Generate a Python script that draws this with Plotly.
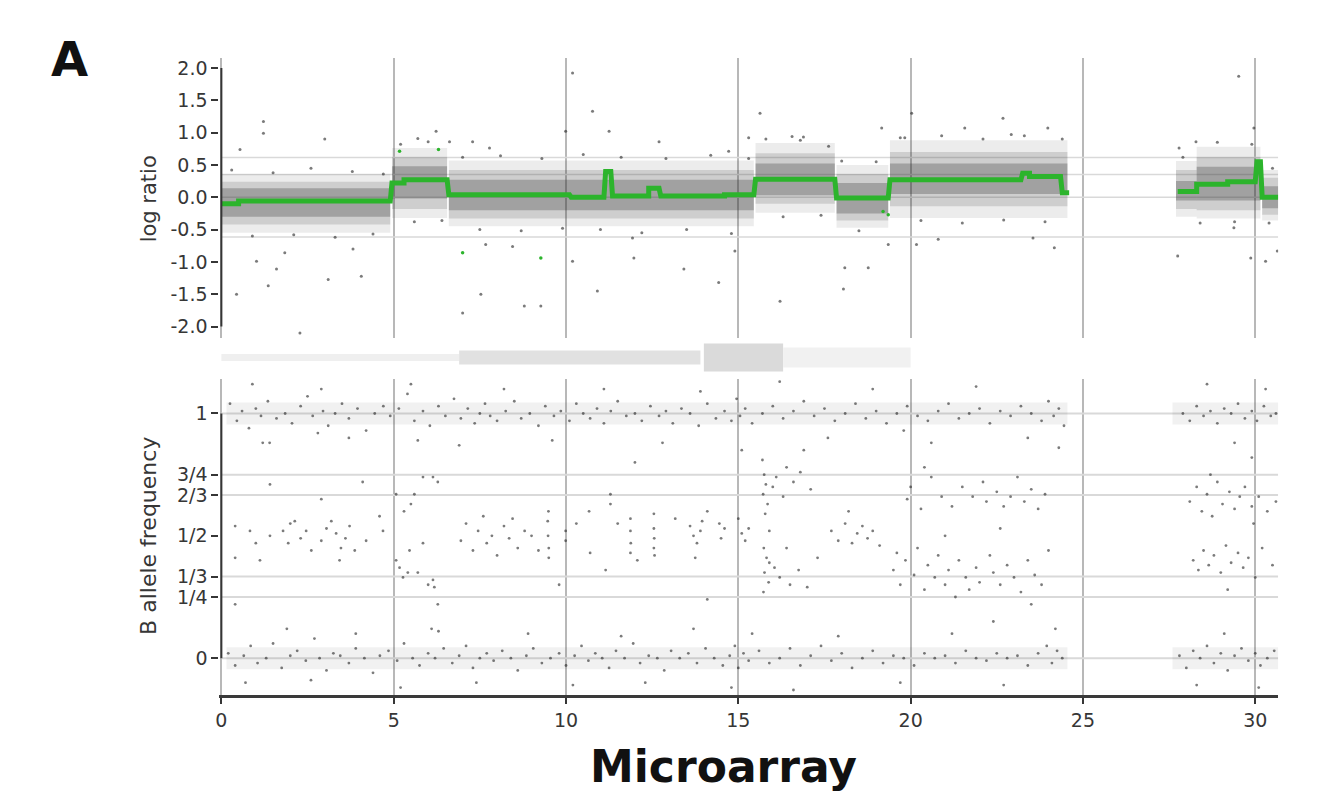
import plotly.graph_objects as go

# ---------------- data ----------------
# log-ratio segmentation (green steps): start, end, value
seg_start = [0.0, 0.5, 4.95, 5.3, 6.6, 10.15, 11.15, 11.35, 12.4, 12.75, 14.6, 15.5, 17.85, 19.4, 23.25, 23.45, 24.4, 27.75, 28.3, 29.2, 30.05, 30.2]
seg_end = [0.5, 4.9, 5.3, 6.55, 10.1, 11.1, 11.3, 12.4, 12.7, 14.6, 15.45, 17.8, 19.35, 23.2, 23.45, 24.35, 24.6, 28.3, 29.2, 30.0, 30.15, 30.67]
seg_value = [-0.10, -0.06, 0.22, 0.27, 0.04, 0.0, 0.40, 0.02, 0.14, 0.02, 0.04, 0.28, -0.01, 0.27, 0.37, 0.32, 0.07, 0.09, 0.20, 0.24, 0.55, 0.0]

# log-ratio probe cloud extents per region (dense core / middle / outer envelope)
cloud_start = [0.0, 4.95, 6.6, 15.5, 17.85, 19.4, 27.7, 28.3, 30.2]
cloud_end = [4.9, 6.55, 15.45, 17.8, 19.35, 24.55, 28.3, 30.15, 30.67]
cloud_core_lo = [-0.30, -0.02, -0.20, 0.03, -0.25, 0.05, -0.05, -0.05, -0.17]
cloud_core_hi = [0.14, 0.48, 0.27, 0.52, 0.22, 0.52, 0.25, 0.47, 0.17]
cloud_mid_lo = [-0.42, -0.18, -0.33, -0.10, -0.36, -0.14, -0.18, -0.20, -0.27]
cloud_mid_hi = [0.24, 0.62, 0.42, 0.68, 0.36, 0.70, 0.42, 0.62, 0.30]
cloud_outer_lo = [-0.55, -0.32, -0.45, -0.24, -0.47, -0.32, -0.30, -0.33, -0.36]
cloud_outer_hi = [0.36, 0.76, 0.57, 0.84, 0.50, 0.88, 0.56, 0.78, 0.42]

# log-ratio outlying probes
lr_outliers = [(1.22, 1.17), (1.22, 0.99), (3.0, 0.9), (0.54, 0.74), (1.02, -0.99), (1.6, -1.11), (1.36, -1.37),
               (0.44, -1.5), (3.1, -1.27), (4.06, -1.22), (2.28, -2.1), (3.82, -0.8), (1.84, -0.86), (5.7, 0.91),
               (6.23, 1.02), (10.19, 1.92), (10.77, 1.33), (11.25, 1.02), (7.53, -1.5), (7.0, -1.79), (8.79, -1.68),
               (9.27, -1.68), (8.45, -0.76), (10.19, -0.99), (10.91, -1.45), (11.97, -0.94), (13.42, -1.11),
               (14.43, -1.32), (16.21, -1.61), (18.05, -1.42), (18.09, -1.09), (18.77, -1.09), (15.63, 1.3),
               (15.3, 0.92), (16.89, 0.93), (16.56, 0.94), (17.62, 0.79), (19.16, 1.07), (12.7, 0.86), (9.99, 1.02),
               (6.62, 0.86), (7.29, 0.86), (7.78, 0.76), (14.72, 0.71), (7.67, -0.73), (11.93, -0.63), (14.9, -0.83),
               (29.52, 1.87), (22.68, 1.22), (21.57, 1.07), (22.92, 0.97), (23.98, 1.07), (19.83, 0.92), (20.03, 1.3),
               (29.96, 1.07), (28.28, 0.86), (27.79, 0.76), (24.17, -0.78), (23.55, -0.63), (20.8, -0.65),
               (20.17, -0.73), (27.75, -0.91), (29.87, -0.94), (30.3, -0.99), (29.38, -0.47), (30.64, -0.83),
               (19.35, -0.73)]
# probes at the fuzzy edge of the clouds
lr_fringe = [(0.3, 0.42), (0.9, -0.6), (1.5, 0.38), (2.1, -0.58), (2.6, 0.45), (3.3, -0.62), (3.8, 0.4),
             (4.4, -0.57), (4.7, 0.36), (5.2, 0.82), (5.6, -0.38), (6.0, 0.86), (6.4, -0.36), (7.0, 0.62),
             (7.5, -0.5), (8.1, 0.64), (8.7, -0.52), (9.3, 0.6), (9.9, -0.48), (10.5, 0.66), (11.0, -0.5),
             (11.6, 0.62), (12.2, -0.55), (12.9, 0.6), (13.5, -0.5), (14.2, 0.65), (14.8, -0.56), (15.3, 0.6),
             (15.8, 0.9), (16.3, -0.3), (16.8, 0.88), (17.4, -0.28), (18.0, 0.56), (18.5, -0.52), (19.0, 0.55),
             (19.7, 0.92), (20.3, -0.36), (20.9, 0.95), (21.5, -0.4), (22.1, 0.9), (22.7, -0.35), (23.3, 0.95),
             (23.9, -0.38), (24.4, 0.9), (27.9, 0.62), (28.4, -0.4), (28.9, 0.85), (29.4, -0.38), (29.9, 0.82),
             (30.4, -0.4), (30.5, 0.45)]
lr_green_points = [(5.17, 0.71), (6.3, 0.74), (7.0, -0.86), (9.27, -0.94), (19.35, -0.27), (19.2, -0.22)]

lr_ref_levels = [0.615, 0.35, 0.0, -0.615]
lr_tick_vals = [2.0, 1.5, 1.0, 0.5, 0.0, -0.5, -1.0, -1.5, -2.0]
lr_tick_text = ["2.0", "1.5", "1.0", "0.5", "0.0", "-0.5", "-1.0", "-1.5", "-2.0"]

# ideogram bands
ideo_start = [0.0, 6.9, 14.0, 16.3]
ideo_end = [6.9, 13.9, 16.3, 20.0]
ideo_stain = ["gneg", "gpos", "acen", "gvar"]

# B allele frequency points
baf_near_1 = [
    (0.25, 1.04), (0.45, 0.97), (0.6, 1.01), (0.8, 0.94), (1.0, 1.02), (1.15, 0.99), (1.35, 1.05), (1.6, 0.98),
    (1.85, 1.0), (2.05, 0.96), (2.3, 1.03), (2.5, 1.07), (2.65, 0.99), (2.8, 0.92), (2.95, 1.01), (3.1, 0.95),
    (3.3, 1.0), (3.5, 1.04), (3.7, 0.98), (3.95, 1.02), (4.2, 0.93), (4.45, 1.0), (4.7, 1.03), (4.9, 0.99),
    (5.15, 1.02), (5.4, 1.08), (5.6, 0.97), (5.85, 1.01), (6.05, 0.95), (6.3, 1.03), (6.5, 0.99), (6.75, 1.06),
    (6.95, 0.98), (7.15, 1.02), (7.35, 0.96), (7.5, 1.0), (7.65, 1.04), (7.8, 0.99), (8.0, 0.97), (8.25, 1.01),
    (8.5, 1.05), (8.7, 0.98), (8.95, 1.0), (9.2, 0.95), (9.4, 1.03), (9.65, 0.99), (9.85, 1.01),
    (10.1, 0.97), (10.3, 1.04), (10.5, 1.0), (10.7, 0.98), (10.9, 1.02), (11.1, 0.96), (11.3, 1.01), (11.5, 1.05),
    (11.75, 0.99), (12.0, 1.0), (12.2, 0.97), (12.45, 1.03), (12.7, 0.99), (12.9, 1.01), (13.1, 0.96),
    (13.35, 1.02), (13.6, 1.0), (13.85, 0.95), (14.1, 1.04), (14.35, 0.98), (14.6, 1.01), (14.8, 0.97),
    (14.95, 1.06), (15.05, 0.99), (15.2, 1.02), (15.4, 0.96),
    (15.7, 1.0), (16.0, 1.03), (16.3, 0.98), (16.6, 1.01), (16.9, 1.05), (17.2, 0.99), (17.5, 1.02), (17.8, 0.97),
    (18.1, 1.0), (18.4, 1.04), (18.7, 0.98), (19.0, 1.01), (19.3, 0.96), (19.6, 1.0), (19.9, 1.03), (20.2, 0.99),
    (20.5, 0.97), (20.8, 1.01), (21.1, 1.04), (21.4, 0.98), (21.7, 1.0), (22.0, 1.02), (22.3, 0.96), (22.6, 1.01),
    (22.9, 0.99), (23.2, 1.03), (23.5, 1.0), (23.8, 0.97), (24.0, 1.05), (24.15, 0.99), (24.3, 1.02), (24.45, 0.95),
    (27.9, 1.0), (28.1, 0.97), (28.3, 1.03), (28.5, 0.99), (28.7, 1.01), (28.9, 0.96), (29.1, 1.02), (29.3, 1.0),
    (29.5, 1.04), (29.7, 0.98), (29.9, 1.01), (30.05, 0.97), (30.25, 1.03), (30.45, 0.99), (30.6, 1.0)]

baf_near_0 = [
    (0.2, 0.02), (0.4, -0.03), (0.65, 0.01), (0.85, 0.05), (1.05, -0.02), (1.3, 0.0), (1.5, 0.06), (1.75, -0.04),
    (2.0, 0.01), (2.2, 0.03), (2.45, -0.01), (2.7, 0.08), (2.85, 0.0), (3.05, -0.05), (3.25, 0.02), (3.45, 0.01),
    (3.7, -0.02), (3.9, 0.04), (4.15, 0.0), (4.4, -0.06), (4.6, 0.01), (4.85, 0.03),
    (5.1, -0.01), (5.3, 0.06), (5.55, 0.0), (5.75, -0.03), (6.0, 0.02), (6.2, 0.0), (6.45, 0.04), (6.7, -0.02),
    (6.9, 0.01), (7.1, 0.05), (7.3, -0.04), (7.5, 0.0), (7.7, 0.02), (7.9, -0.01), (8.15, 0.03), (8.4, 0.0),
    (8.6, -0.05), (8.85, 0.01), (9.05, 0.04), (9.3, -0.02), (9.55, 0.0), (9.8, 0.02),
    (10.0, -0.03), (10.25, 0.01), (10.45, 0.05), (10.65, -0.01), (10.85, 0.02), (11.05, 0.0), (11.25, -0.04),
    (11.45, 0.03), (11.7, 0.0), (11.95, 0.06), (12.15, -0.02), (12.4, 0.01), (12.65, 0.0), (12.85, -0.05),
    (13.05, 0.03), (13.3, 0.0), (13.55, 0.02), (13.8, -0.02), (14.05, 0.04), (14.3, 0.0), (14.55, -0.03),
    (14.75, 0.01), (14.9, 0.05), (15.0, -0.04), (15.15, 0.02), (15.3, -0.01),
    (15.6, 0.03), (15.9, -0.02), (16.2, 0.0), (16.5, 0.04), (16.8, -0.03), (17.1, 0.01), (17.4, 0.05), (17.7, -0.01),
    (18.0, 0.02), (18.3, -0.04), (18.6, 0.0), (18.9, 0.03), (19.2, -0.02), (19.5, 0.01), (19.8, 0.0), (20.1, -0.03),
    (20.4, 0.02), (20.7, 0.0), (21.0, 0.01), (21.3, -0.02), (21.6, 0.03), (21.9, 0.0), (22.2, -0.01), (22.5, 0.02),
    (22.8, 0.0), (23.1, 0.01), (23.4, -0.03), (23.7, 0.02), (23.95, 0.05), (24.1, -0.02), (24.25, 0.03), (24.4, 0.0),
    (27.8, 0.01), (28.0, -0.04), (28.2, 0.03), (28.4, 0.0), (28.6, 0.05), (28.8, -0.02), (29.0, 0.02), (29.2, -0.05),
    (29.4, 0.01), (29.6, 0.04), (29.8, -0.01), (30.0, 0.02), (30.15, -0.03), (30.35, 0.0), (30.55, 0.03)]

baf_scatter = [
    (0.9, 1.12), (1.4, 0.88), (2.9, 1.1), (3.7, 0.9), (5.5, 1.12), (6.9, 0.87), (8.2, 1.1), (9.6, 0.89), (11.1, 1.1),
    (12.8, 0.88), (13.9, 1.09), (15.1, 0.85), (16.2, 1.13), (17.6, 0.9), (18.9, 1.1), (20.6, 0.88), (21.9, 1.11),
    (23.4, 0.9), (24.3, 0.86), (28.6, 1.12), (29.4, 0.88), (30.3, 1.1),
    (0.7, -0.1), (1.9, 0.12), (2.6, -0.09), (3.9, 0.1), (5.2, -0.12), (6.3, 0.11), (7.4, -0.1), (8.9, 0.1),
    (10.2, -0.11), (11.6, 0.09), (12.3, -0.1), (13.7, 0.12), (14.8, -0.12), (15.4, 0.1), (16.6, -0.13), (17.9, 0.09),
    (19.7, -0.1), (21.2, 0.1), (22.7, -0.11), (24.2, 0.12), (28.3, -0.11), (29.1, 0.1), (30.1, -0.12),
    (0.4, 0.22), (1.2, 0.88), (4.1, 0.72), (5.7, 0.89), (6.1, 0.12), (9.8, 0.3), (12.0, 0.8), (14.1, 0.24),
    (16.9, 0.85), (19.8, 0.93), (22.4, 0.15), (29.9, 0.82)]

baf_het = [
    (0.4, 0.54), (0.4, 0.41), (0.83, 0.52), (1.12, 0.40), (1.41, 0.50), (1.79, 0.52), (1.94, 0.47), (2.13, 0.56),
    (2.3, 0.49), (2.46, 0.52), (2.61, 0.44), (2.9, 0.48), (3.05, 0.53), (3.19, 0.56), (3.33, 0.51), (3.43, 0.40),
    (3.47, 0.45), (3.72, 0.54), (3.87, 0.44), (4.2, 0.48), (4.59, 0.58), (4.69, 0.52), (1.41, 0.71), (2.9, 0.65),
    (1.0, 0.47), (2.0, 0.55), (3.6, 0.49),
    (5.07, 0.40), (5.17, 0.37), (5.27, 0.33), (5.41, 0.35), (5.7, 0.35), (6.14, 0.32), (6.18, 0.29), (6.28, 0.22),
    (5.46, 0.44), (5.85, 0.47), (5.07, 0.67), (5.6, 0.67), (5.5, 0.63), (5.85, 0.74), (6.14, 0.74), (6.28, 0.72),
    (5.3, 0.6), (6.0, 0.3),
    (6.95, 0.48), (7.1, 0.55), (7.3, 0.44), (7.45, 0.52), (7.6, 0.58), (7.7, 0.47), (7.85, 0.5), (8.0, 0.42),
    (8.2, 0.54), (8.35, 0.49), (8.45, 0.57), (8.6, 0.45), (8.8, 0.52), (9.0, 0.5), (9.2, 0.44), (9.47, 0.56),
    (9.48, 0.50), (9.5, 0.45), (9.5, 0.41), (9.49, 0.6), (9.99, 0.52), (9.99, 0.48), (10.3, 0.55), (10.67, 0.60),
    (10.7, 0.43), (11.15, 0.36), (11.5, 0.55), (11.87, 0.57), (11.87, 0.52), (11.88, 0.47), (11.87, 0.43),
    (12.07, 0.40), (12.55, 0.59), (12.55, 0.53), (12.56, 0.49), (12.55, 0.45), (12.57, 0.42), (13.17, 0.57),
    (13.6, 0.54), (13.7, 0.5), (13.75, 0.41), (13.8, 0.47), (13.9, 0.52), (13.95, 0.56), (14.45, 0.55),
    (14.5, 0.49), (14.6, 0.53), (15.0, 0.57), (15.1, 0.51), (15.2, 0.48), (15.3, 0.53), (11.29, 0.67),
    (11.29, 0.63), (14.1, 0.6),
    (15.7, 0.81), (15.75, 0.75), (15.8, 0.71), (15.72, 0.67), (15.85, 0.63), (15.78, 0.59), (15.9, 0.52),
    (15.74, 0.45), (15.82, 0.41), (15.9, 0.39), (15.76, 0.35), (15.88, 0.31), (15.73, 0.27), (16.0, 0.70),
    (16.05, 0.37), (16.2, 0.33), (16.1, 0.74), (16.3, 0.66), (16.4, 0.78), (16.6, 0.72), (16.8, 0.76),
    (17.1, 0.69), (16.5, 0.30), (16.75, 0.36), (17.0, 0.29), (17.3, 0.41), (16.4, 0.45),
    (17.7, 0.52), (17.9, 0.48), (18.1, 0.55), (18.3, 0.47), (18.45, 0.51), (18.6, 0.54), (18.75, 0.49),
    (18.9, 0.52), (19.1, 0.46), (18.2, 0.60),
    (19.5, 0.36), (19.6, 0.43), (19.7, 0.30), (19.85, 0.40), (19.9, 0.65), (20.0, 0.70), (20.1, 0.34), (20.2, 0.45),
    (20.3, 0.61), (20.4, 0.28), (20.5, 0.38), (20.6, 0.74), (20.7, 0.33), (20.8, 0.42), (20.9, 0.66), (21.0, 0.30),
    (21.1, 0.36), (21.2, 0.62), (21.3, 0.25), (21.4, 0.40), (21.5, 0.70), (21.6, 0.33), (21.7, 0.28), (21.8, 0.66),
    (21.9, 0.37), (22.0, 0.31), (22.1, 0.72), (22.2, 0.64), (22.3, 0.42), (22.4, 0.35), (22.5, 0.68), (22.6, 0.30),
    (22.7, 0.62), (22.8, 0.38), (22.9, 0.66), (23.0, 0.33), (23.1, 0.74), (23.2, 0.27), (23.3, 0.64), (23.4, 0.40),
    (23.5, 0.69), (23.6, 0.34), (23.7, 0.61), (23.8, 0.30), (23.9, 0.67), (24.0, 0.44), (21.0, 0.5), (22.6, 0.53),
    (20.4, 0.78), (23.5, 0.22),
    (28.1, 0.64), (28.2, 0.40), (28.3, 0.70), (28.35, 0.36), (28.45, 0.60), (28.5, 0.44), (28.6, 0.67),
    (28.65, 0.38), (28.75, 0.58), (28.8, 0.42), (28.9, 0.72), (29.0, 0.35), (29.05, 0.63), (29.15, 0.46),
    (29.25, 0.68), (29.3, 0.39), (29.4, 0.61), (29.5, 0.43), (29.55, 0.66), (29.65, 0.37), (29.7, 0.70),
    (29.8, 0.41), (29.9, 0.62), (30.0, 0.33), (30.1, 0.66), (30.2, 0.45), (30.35, 0.6), (30.5, 0.38), (30.6, 0.64),
    (28.7, 0.75), (29.2, 0.28), (29.95, 0.55)]

# genotype bands along the homozygous lines (dense part of the dot clouds)
hom_band_start = [0.15, 27.6]
hom_band_end = [24.55, 30.67]

baf_ref_levels = [1.0, 3 / 4, 2 / 3, 1 / 3, 1 / 4, 0.0]
baf_tick_vals = [0.0, 1 / 4, 1 / 3, 1 / 2, 2 / 3, 3 / 4, 1.0]
baf_tick_text = ["0", "1/4", "1/3", "1/2", "2/3", "3/4", "1"]

x_tick_vals = [0, 5, 10, 15, 20, 25, 30]
x_max = 30.665

# ---------------- styles ----------------
OFF = 8                 # page body margin of the html page
W, H = 1336 - OFF, 792 - OFF
X_LEFT, X_RIGHT = 216, 1278
X_MIN = -0.058
TEXT = "#363636"
GRID = "#b8b8b8"
REF = "#d9d9d9"
DOT = "rgba(35,35,35,0.6)"
GREEN = "#2cb42c"
FONT = "DejaVu Sans"
stain_style = {"gneg": ("#efefef", 3.5), "gpos": ("#e1e1e1", 7), "acen": ("#dadada", 14), "gvar": ("#f1f1f1", 10)}


def px(p):
    return (p - OFF) / W


def py(p):
    return 1 - (p - OFF) / H


def unzip(pts):
    return [p[0] for p in pts], [p[1] for p in pts]


fig = go.Figure()

# horizontal reference lines
for lv in lr_ref_levels:
    fig.add_trace(go.Scatter(x=[0, x_max], y=[lv, lv], mode="lines", line=dict(color=REF, width=1.5),
                             xaxis="x", yaxis="y", hoverinfo="skip"))
for lv in baf_ref_levels:
    fig.add_trace(go.Scatter(x=[0, x_max], y=[lv, lv], mode="lines", line=dict(color=REF, width=2),
                             xaxis="x2", yaxis="y2", hoverinfo="skip"))

# log-ratio clouds
for los, his, alpha in ((cloud_outer_lo, cloud_outer_hi, 0.09), (cloud_mid_lo, cloud_mid_hi, 0.15),
                        (cloud_core_lo, cloud_core_hi, 0.27)):
    for x0, x1, lo, hi in zip(cloud_start, cloud_end, los, his):
        fig.add_trace(go.Scatter(x=[x0, x1, x1, x0, x0], y=[lo, lo, hi, hi, lo], mode="lines", fill="toself",
                                 fillcolor=f"rgba(40,40,40,{alpha})", line=dict(width=0), xaxis="x", yaxis="y",
                                 hoverinfo="skip"))

for pts in (lr_outliers, lr_fringe):
    ox, oy = unzip(pts)
    fig.add_trace(go.Scatter(x=ox, y=oy, mode="markers", marker=dict(size=3, color=DOT), xaxis="x", yaxis="y",
                             hoverinfo="skip"))
gx, gy = unzip(lr_green_points)
fig.add_trace(go.Scatter(x=gx, y=gy, mode="markers", marker=dict(size=3.5, color=GREEN), xaxis="x", yaxis="y",
                         hoverinfo="skip"))

# segmentation line
sx, sy = [], []
prev_end = None
for a, b, v in zip(seg_start, seg_end, seg_value):
    if prev_end is not None and a - prev_end > 0.3:
        sx.append(None)
        sy.append(None)
    sx += [a, b]
    sy += [v, v]
    prev_end = b
fig.add_trace(go.Scatter(x=sx, y=sy, mode="lines", line=dict(color=GREEN, width=5), xaxis="x", yaxis="y",
                         hoverinfo="skip"))

# ideogram
for a, b, st in zip(ideo_start, ideo_end, ideo_stain):
    col, hh = stain_style[st]
    fig.add_trace(go.Scatter(x=[a, b, b, a, a], y=[-hh, -hh, hh, hh, -hh], mode="lines", fill="toself",
                             fillcolor=col, line=dict(width=0), xaxis="x3", yaxis="y3", hoverinfo="skip"))

# BAF bands along homozygous lines
for x0, x1 in zip(hom_band_start, hom_band_end):
    for c in (0.0, 1.0):
        fig.add_trace(go.Scatter(x=[x0, x1, x1, x0, x0], y=[c - 0.045, c - 0.045, c + 0.045, c + 0.045, c - 0.045],
                                 mode="lines", fill="toself", fillcolor="rgba(60,60,60,0.07)", line=dict(width=0),
                                 xaxis="x2", yaxis="y2", hoverinfo="skip"))

for pts in (baf_near_1, baf_near_0, baf_scatter, baf_het):
    bx, by = unzip(pts)
    fig.add_trace(go.Scatter(x=bx, y=by, mode="markers", marker=dict(size=2.8, color=DOT), xaxis="x2", yaxis="y2",
                             hoverinfo="skip"))

# trimmed spines
fig.add_trace(go.Scatter(x=[0, 0], y=[-2, 2], mode="lines", line=dict(color=TEXT, width=2), xaxis="x", yaxis="y",
                         hoverinfo="skip"))
fig.add_trace(go.Scatter(x=[0, 0], y=[0, 1], mode="lines", line=dict(color=TEXT, width=2), xaxis="x2", yaxis="y2",
                         hoverinfo="skip"))

xdom = [px(X_LEFT), px(X_RIGHT)]
common_x = dict(domain=xdom, range=[X_MIN, x_max], zeroline=False, tick0=0, dtick=5)
tickfont = dict(family=FONT, size=19, color=TEXT)

fig.update_layout(
    width=W, height=H, margin=dict(l=0, r=0, t=0, b=0),
    paper_bgcolor="white", plot_bgcolor="white", showlegend=False,
    xaxis=dict(**common_x, anchor="y", showgrid=True, gridcolor=GRID, gridwidth=1.5, showticklabels=False,
               ticks="", showline=False),
    yaxis=dict(domain=[py(337), py(57)], range=[-2.17, 2.154], anchor="x", tickvals=lr_tick_vals,
               ticktext=lr_tick_text, ticks="outside", ticklen=7, tickwidth=2, tickcolor=TEXT, tickfont=tickfont,
               showgrid=False, zeroline=False, showline=False),
    xaxis2=dict(**common_x, anchor="y2", showgrid=True, gridcolor=GRID, gridwidth=1.5, tickvals=x_tick_vals,
                ticktext=[str(v) for v in x_tick_vals], ticks="outside", ticklen=6, tickwidth=2, tickcolor=TEXT,
                tickfont=dict(family=FONT, size=19, color=TEXT), showline=True, linewidth=3, linecolor="#3a3a3a"),
    yaxis2=dict(domain=[py(695), py(378)], range=[-0.151, 1.1429], anchor="x2", tickvals=baf_tick_vals,
                ticktext=baf_tick_text, ticks="outside", ticklen=7, tickwidth=2, tickcolor=TEXT, tickfont=tickfont,
                showgrid=False, zeroline=False, showline=False),
    xaxis3=dict(domain=xdom, range=[X_MIN, x_max], anchor="y3", visible=False),
    yaxis3=dict(domain=[py(374), py(340)], range=[-17, 17], anchor="x3", visible=False),
    annotations=[
        dict(text="log ratio", x=px(145), y=py(198), xref="paper", yref="paper", textangle=-90, showarrow=False,
             font=dict(family=FONT, size=21, color=TEXT), xanchor="center", yanchor="middle"),
        dict(text="B allele frequency", x=px(145), y=py(536), xref="paper", yref="paper", textangle=-90,
             showarrow=False, font=dict(family=FONT, size=22, color=TEXT), xanchor="center", yanchor="middle"),
        dict(text="<b>Microarray</b>", x=px(722), y=py(766), xref="paper", yref="paper", showarrow=False,
             font=dict(family=FONT, size=44, color="#111111"), xanchor="center", yanchor="middle"),
        dict(text="<b>A</b>", x=px(66), y=py(58), xref="paper", yref="paper", showarrow=False,
             font=dict(family=FONT, size=48, color="#111111"), xanchor="center", yanchor="middle"),
    ],
)

fig.write_html("out.html")
